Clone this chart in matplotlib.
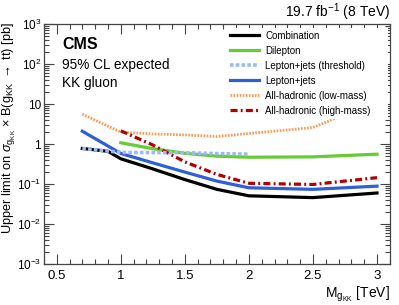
import numpy as np
import matplotlib
matplotlib.use('Agg')
import matplotlib.pyplot as plt
from matplotlib.ticker import MultipleLocator, FixedLocator, NullFormatter

plt.rcParams['font.family'] = ['Liberation Sans', 'DejaVu Sans']
plt.rcParams['mathtext.fontset'] = 'custom'
plt.rcParams['mathtext.rm'] = 'Liberation Sans'
plt.rcParams['mathtext.it'] = 'Liberation Sans:italic'
plt.rcParams['mathtext.bf'] = 'Liberation Sans:bold'

# expected limits [pb] vs KK gluon mass [TeV]
massComb = [0.7, 0.9, 1.0, 1.25, 1.5, 1.75, 2.0, 2.5, 3.0]
limitComb = [0.78, 0.66, 0.43, 0.24, 0.13, 0.074, 0.051, 0.046, 0.060]

massDilep = [1.0, 1.25, 1.5, 1.75, 2.0, 2.5, 3.0]
limitDilep = [1.08, 0.77, 0.59, 0.50, 0.47, 0.48, 0.56]

massThresh = [0.7, 1.0, 1.5, 1.75, 2.0]
limitThresh = [0.78, 0.62, 0.61, 0.58, 0.56]

massLepJets = [0.7, 1.0, 1.25, 1.5, 1.75, 2.0, 2.5, 3.0]
limitLepJets = [2.1, 0.585, 0.34, 0.20, 0.119, 0.081, 0.074, 0.089]

massLowMass = [0.7, 1.0, 1.25, 1.5, 1.75, 2.0, 2.5, 3.0]
limitLowMass = [5.6, 2.0, 1.8, 1.7, 1.55, 1.84, 2.6, 11.7]

massHighMass = [1.0, 1.25, 1.5, 1.75, 2.0, 2.5, 3.0]
limitHighMass = [2.15, 0.95, 0.36, 0.175, 0.105, 0.098, 0.145]

yTicks = [1e-3, 1e-2, 1e-1, 1, 10, 1e2, 1e3]
yTickLabels = [r'$10^{-3}$', r'$10^{-2}$', r'$10^{-1}$', '1', '10', r'$10^{2}$', r'$10^{3}$']

fig = plt.figure(figsize=(3.99, 3.05), dpi=100)
ax = fig.add_axes([0.110, 0.134, 0.867, 0.787])

ax.plot(massComb, limitComb, color='black', lw=2.3, label='Combination', zorder=2)
ax.plot(massDilep, limitDilep, color='#66cc33', lw=2.3, label='Dilepton', zorder=2)
ax.plot(massThresh, limitThresh, color='#99bbf5', lw=2.6, linestyle=(0, (1, 0.6)), label='Lepton+jets (threshold)', zorder=3)
ax.plot(massLepJets, limitLepJets, color='#2e5fd8', lw=2.3, label='Lepton+jets', zorder=2)
ax.plot(massLowMass, limitLowMass, color='#ff9955', lw=2.0, linestyle=(0, (0.6, 0.5)), label='All-hadronic (low-mass)', zorder=2)
ax.plot(massHighMass, limitHighMass, color='#b00000', lw=2.3, linestyle=(0, (2.2, 1.0, 0.6, 1.0)), label='All-hadronic (high-mass)', zorder=2)

ax.set_yscale('log')
ax.set_xlim(0.4, 3.1)
ax.set_ylim(1e-3, 1e3)
ax.yaxis.set_major_locator(FixedLocator(yTicks))
ax.set_yticklabels(yTickLabels)
ax.yaxis.set_minor_locator(FixedLocator([m * 10.0 ** e for e in range(-3, 3) for m in range(2, 10)]))
ax.yaxis.set_minor_formatter(NullFormatter())
ax.xaxis.set_minor_locator(MultipleLocator(0.1))
ax.set_xticks([0.5, 1, 1.5, 2, 2.5, 3])
ax.set_xticklabels(['0.5', '1', '1.5', '2', '2.5', '3'])

ax.tick_params(which='both', direction='in', top=True, right=True, labelsize=9.5, width=0.8, color='#444444')
ax.tick_params(axis='y', labelsize=8.5, pad=2)
ax.tick_params(which='major', length=7)
ax.tick_params(which='minor', length=3.5)
ax.tick_params(axis='x', pad=4)
for s in ax.spines.values():
    s.set_linewidth(0.9)
    s.set_color('#444444')

ax.set_ylabel(r'Upper limit on $\sigma_{\mathrm{g}_{\mathrm{KK}}}$ $\times$ B(g$_{\mathrm{KK}}$ $\rightarrow$ t$\bar{\mathrm{t}}$) [pb]',
              fontsize=9.2, loc='top')
ax.yaxis.set_label_coords(-0.074, 1.01)
ax.set_xlabel(r'M$_{\mathrm{g}_{\mathrm{KK}}}$ [TeV]', fontsize=10, loc='right', labelpad=2)

ax.text(0.052, 0.948, 'CMS', transform=ax.transAxes, fontsize=11.5, fontweight='bold', va='top', ha='left')
ax.text(0.052, 0.858, '95% CL expected', transform=ax.transAxes, fontsize=9.8, va='top', ha='left')
ax.text(0.052, 0.785, 'KK gluon', transform=ax.transAxes, fontsize=9.8, va='top', ha='left')
fig.text(0.977, 0.944, r'19.7 fb$^{-1}$ (8 TeV)', fontsize=10, ha='right', va='baseline')

leg = ax.legend(loc='upper left', bbox_to_anchor=(0.53, 0.6, 0.465, 0.385), mode='expand', fontsize=7, frameon=True,
                handlelength=3.0, labelspacing=0.52, borderpad=0.3, handletextpad=0.6, borderaxespad=0)
leg.get_frame().set_facecolor('white')
leg.get_frame().set_edgecolor('none')
leg.get_frame().set_alpha(1.0)
leg.get_frame().set_boxstyle('square', pad=0)

fig.savefig('out.png', dpi=100)
